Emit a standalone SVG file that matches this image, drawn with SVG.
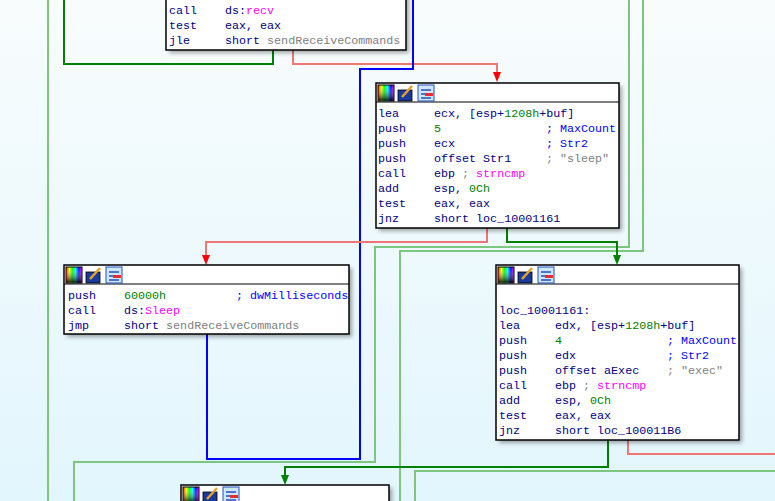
<svg xmlns="http://www.w3.org/2000/svg" width="775" height="501" viewBox="0 0 775 501">
<defs>
<linearGradient id="bg" x1="0" y1="0" x2="0" y2="1"><stop offset="0" stop-color="#f8fcfd"/><stop offset="1" stop-color="#e2f6fd"/></linearGradient>
<linearGradient id="rb" x1="0" y1="0" x2="1" y2="0"><stop offset="0" stop-color="#f00"/><stop offset="0.2" stop-color="#ff0"/><stop offset="0.4" stop-color="#0f0"/><stop offset="0.6" stop-color="#0ff"/><stop offset="0.8" stop-color="#00f"/><stop offset="1" stop-color="#f0f"/></linearGradient>
<linearGradient id="dk" x1="0" y1="0" x2="0" y2="1"><stop offset="0" stop-color="#fff" stop-opacity="0"/><stop offset="1" stop-color="#000" stop-opacity="0.85"/></linearGradient>
<filter id="blur" x="-10%" y="-10%" width="120%" height="120%"><feGaussianBlur stdDeviation="2"/></filter>
<g id="icons">
<rect x="0" y="0" width="16" height="16" fill="url(#rb)" stroke="#000" stroke-width="1"/>
<rect x="0.5" y="0.5" width="15" height="15" fill="url(#dk)"/>
<rect x="20" y="5" width="14" height="11" fill="#1a3a9a" stroke="#000" stroke-width="0.8"/>
<path d="M24,12 L34,1" stroke="#e8a030" stroke-width="2.5"/>
<rect x="40" y="0" width="16" height="16" fill="#cfe6ff" stroke="#2050c0" stroke-width="1"/>
<path d="M43,5h10M43,9h4M49,9h6M43,13h10" stroke="#2050c0" stroke-width="1.5"/>
<rect x="47" y="8" width="8" height="3" fill="#e03030"/>
</g>
</defs>
<style>
text{font-family:"Liberation Mono","DejaVu Sans Mono",monospace;font-size:11.7px;fill:#000080}
.n{fill:#008000}.c{fill:#0000ff}.s{fill:#808080}.f{fill:#ff00ff}
.box{fill:#fff;stroke:#000;stroke-width:1.5}
.sh{fill:#000;opacity:0.35;filter:url(#blur)}
.lg{fill:none;stroke:#7dc67f;stroke-width:2}
.dg{fill:none;stroke:#008000;stroke-width:2}
.rd{fill:none;stroke:#f07575;stroke-width:2}
.bl{fill:none;stroke:#0000ff;stroke-width:2}
</style>
<rect width="775" height="501" fill="url(#bg)"/>
<g id="connectors">
<path class="lg" d="M48,0V501"/>
<path class="lg" d="M629,0V247H375V462H74V501"/>
<path class="lg" d="M643,0V251H400V501"/>
<path class="lg" d="M775,471H415V501"/>
<path class="dg" d="M273,50V64H64V0"/>
<path class="rd" d="M293,50V64H497V74"/>
<path d="M493,72h8l-4,10z" fill="#f00"/>
<path class="bl" d="M207,334V459H360V69H413V0"/>
<path class="rd" d="M487,228V242H206V256"/>
<path d="M202,255h8l-4,10z" fill="#f00"/>
<path class="dg" d="M507,228V242H617V256"/>
<path d="M613,255h8l-4,10z" fill="#008000"/>
<path class="dg" d="M608,440V467H285V476"/>
<path d="M281,475h8l-4,10z" fill="#008000"/>
<path class="rd" d="M628,440V454H775"/>
</g>
<g id="block0">
<rect class="sh" x="169" y="-12" width="240" height="65"/>
<rect class="box" x="166" y="-15" width="240" height="65"/>
<text x="169" y="14">call<tspan x="225">ds:</tspan><tspan class="f">recv</tspan></text>
<text x="169" y="29">test<tspan x="225">eax, eax</tspan></text>
<text x="169" y="44">jle<tspan x="225">short </tspan><tspan class="s">sendReceiveCommands</tspan></text>
</g>
<g id="block1">
<rect class="sh" x="379" y="86" width="243" height="145"/>
<rect class="box" x="376" y="83" width="243" height="145"/>
<line x1="376" y1="102" x2="619" y2="102" stroke="#000"/>
<use href="#icons" x="378" y="85"/>
<text x="378" y="117">lea<tspan x="434">ecx, [esp+</tspan><tspan class="n">1208h</tspan><tspan>+buf]</tspan></text>
<text x="378" y="132">push<tspan x="434" class="n">5</tspan><tspan x="546" class="c">; MaxCount</tspan></text>
<text x="378" y="147">push<tspan x="434">ecx</tspan><tspan x="546" class="c">; Str2</tspan></text>
<text x="378" y="162">push<tspan x="434">offset Str1</tspan><tspan x="546" class="s">; "sleep"</tspan></text>
<text x="378" y="177">call<tspan x="434">ebp </tspan><tspan class="s">; </tspan><tspan class="f">strncmp</tspan></text>
<text x="378" y="192">add<tspan x="434">esp, </tspan><tspan class="n">0Ch</tspan></text>
<text x="378" y="207">test<tspan x="434">eax, eax</tspan></text>
<text x="378" y="222">jnz<tspan x="434">short loc_10001161</tspan></text>
</g>
<g id="block2">
<rect class="sh" x="67" y="268" width="285" height="69"/>
<rect class="box" x="64" y="265" width="285" height="69"/>
<line x1="64" y1="284" x2="349" y2="284" stroke="#000"/>
<use href="#icons" x="66" y="267"/>
<text x="68" y="299">push<tspan x="124" class="n">60000h</tspan><tspan x="236" class="c">; dwMilliseconds</tspan></text>
<text x="68" y="314">call<tspan x="124">ds:</tspan><tspan class="f">Sleep</tspan></text>
<text x="68" y="329">jmp<tspan x="124">short </tspan><tspan class="s">sendReceiveCommands</tspan></text>
</g>
<g id="block3">
<rect class="sh" x="499" y="268" width="243" height="175"/>
<rect class="box" x="496" y="265" width="243" height="175"/>
<line x1="496" y1="284" x2="739" y2="284" stroke="#000"/>
<use href="#icons" x="498" y="267"/>
<text x="499" y="314">loc_10001161:</text>
<text x="499" y="329">lea<tspan x="555">edx, [esp+</tspan><tspan class="n">1208h</tspan><tspan>+buf]</tspan></text>
<text x="499" y="344">push<tspan x="555" class="n">4</tspan><tspan x="667" class="c">; MaxCount</tspan></text>
<text x="499" y="359">push<tspan x="555">edx</tspan><tspan x="667" class="c">; Str2</tspan></text>
<text x="499" y="374">push<tspan x="555">offset aExec</tspan><tspan x="667" class="s">; "exec"</tspan></text>
<text x="499" y="389">call<tspan x="555">ebp </tspan><tspan class="s">; </tspan><tspan class="f">strncmp</tspan></text>
<text x="499" y="404">add<tspan x="555">esp, </tspan><tspan class="n">0Ch</tspan></text>
<text x="499" y="419">test<tspan x="555">eax, eax</tspan></text>
<text x="499" y="434">jnz<tspan x="555">short loc_100011B6</tspan></text>
</g>
<g id="block4">
<rect class="sh" x="184" y="488" width="208" height="30"/>
<rect class="box" x="181" y="485" width="208" height="30"/>
<use href="#icons" x="183" y="487"/>
</g>
</svg>
